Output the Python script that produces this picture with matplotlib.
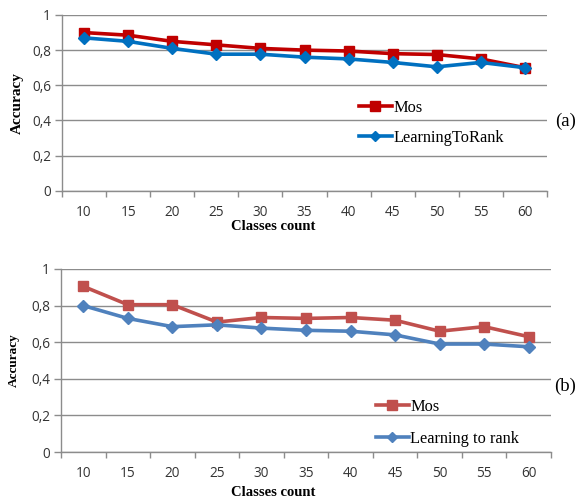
import matplotlib
matplotlib.use("Agg")
import matplotlib.pyplot as plt
import numpy as np

classes = [10, 15, 20, 25, 30, 35, 40, 45, 50, 55, 60]
mos_a = [0.90, 0.885, 0.85, 0.83, 0.81, 0.80, 0.795, 0.78, 0.775, 0.75, 0.70]
ltr_a = [0.87, 0.85, 0.81, 0.777, 0.777, 0.76, 0.75, 0.73, 0.705, 0.73, 0.70]
mos_b = [0.905, 0.805, 0.805, 0.71, 0.735, 0.73, 0.735, 0.72, 0.66, 0.685, 0.63]
ltr_b = [0.80, 0.73, 0.685, 0.695, 0.677, 0.665, 0.66, 0.64, 0.59, 0.59, 0.575]
yticks = [0, 0.2, 0.4, 0.6, 0.8, 1.0]
ytick_labels = ['0', '0,2', '0,4', '0,6', '0,8', '1']

W, H = 584, 499
fig = plt.figure(figsize=(W / 100, H / 100), dpi=100)

def box(l, t, r, b):
    return [l / W, 1 - b / H, (r - l) / W, (b - t) / H]

grid_c = '#8c8c8c'
tick_font = 'Open Sans'
serif = 'Liberation Serif'

def setup(ax, ax_box, c_mos, c_ltr, mos, ltr, lab_ltr, leg_xy, lspace, tag, tag_xy,
          ylab_size, ylab_x, xlab_xy):
    x = np.arange(len(classes))
    ax.plot(x, mos, color=c_mos, lw=2.6, marker='s', ms=7.5, label='Mos', zorder=3)
    ax.plot(x, ltr, color=c_ltr, lw=2.6, marker='D', ms=6, label=lab_ltr, zorder=4)
    ax.set_xlim(-0.5, len(classes) - 0.5)
    ax.set_ylim(0, 1)
    ax.set_yticks(yticks)
    ax.set_yticklabels(ytick_labels, fontsize=9.8, family=tick_font, color='#333333')
    ax.set_xticks(x)
    ax.set_xticklabels([str(c) for c in classes], fontsize=9.8, family=tick_font, color='#333333')
    ax.set_xticks(np.arange(-0.5, len(classes), 1.0), minor=True)
    ax.tick_params(axis='x', which='major', length=0, pad=10)
    ax.tick_params(axis='x', which='minor', length=4, color=grid_c, width=1)
    ax.tick_params(axis='y', length=5, color=grid_c, width=1, pad=3)
    ax.grid(axis='y', color=grid_c, lw=1)
    ax.set_axisbelow(True)
    for s in ['top', 'right']:
        ax.spines[s].set_visible(False)
    for s in ['left', 'bottom']:
        ax.spines[s].set_color(grid_c)
        ax.spines[s].set_linewidth(1)
    l, t, r, b = ax_box
    ax.set_ylabel('Accuracy', fontsize=ylab_size, family=serif, fontweight='bold')
    ax.yaxis.set_label_coords((ylab_x - l) / (r - l), 0.5)
    ax.set_xlabel('Classes count', fontsize=10.5, family=serif, fontweight='bold')
    ax.xaxis.set_label_coords((xlab_xy[0] - l) / (r - l), (b - xlab_xy[1]) / (b - t))
    ax.xaxis.label.set_va('center')
    ax.yaxis.label.set_va('center')
    leg = ax.legend(loc='upper left', bbox_to_anchor=(leg_xy[0] / W, 1 - leg_xy[1] / H),
                    bbox_transform=fig.transFigure, frameon=False,
                    prop={'family': serif, 'size': 11.8}, handlelength=2.0,
                    handletextpad=0.1, labelspacing=lspace, borderpad=0, borderaxespad=0)
    hs = leg.legend_handles
    hs[0].set_markersize(6.5)
    hs[1].set_markersize(5)
    fig.text(tag_xy[0] / W, 1 - tag_xy[1] / H, tag, family=serif, fontsize=13.5,
             ha='left', va='center')

b1 = (62, 15, 547, 190.7)
ax1 = fig.add_axes(box(*b1))
setup(ax1, b1, '#C00000', '#0070C0', mos_a, ltr_a, 'LearningToRank', (359, 100), 0.85, '(a)',
      (555, 121), 11, 17, (273, 226))

b2 = (61, 269, 551, 452)
ax2 = fig.add_axes(box(*b2))
setup(ax2, b2, '#C0504D', '#4F81BD', mos_b, ltr_b, 'Learning to rank', (376, 399), 0.95, '(b)',
      (554, 386), 9.5, 14, (273, 493))

fig.savefig('out.png', dpi=100)
